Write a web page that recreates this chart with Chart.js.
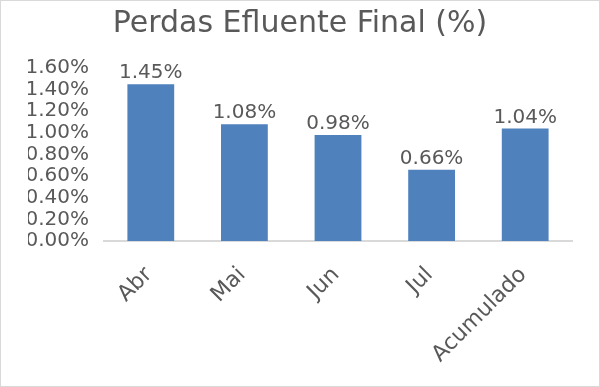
<!DOCTYPE html>
<html>
<head>
<meta charset="utf-8">
<script src="https://cdn.jsdelivr.net/npm/chart.js@4"></script>
<style>
  html, body { margin: 0; padding: 0; background: #fff; }
  #wrap { width: 600px; height: 387px; }
</style>
</head>
<body>
<div id="wrap"><canvas id="perdasChart" width="600" height="387"></canvas></div>
<script>
// data
const categories = ['Abr', 'Mai', 'Jun', 'Jul', 'Acumulado'];
const perdas = [1.45, 1.08, 0.98, 0.66, 1.04];
const yMin = 0;
const yMax = 1.6;
const yStep = 0.2;

const textColor = '#595959';
const barColor = '#4F81BD';
const fontFamily = '"DejaVu Sans", Verdana, sans-serif';

// white background + light frame around the whole chart
const frame = {
    id: 'frame',
    beforeDraw(chart) {
        const ctx = chart.ctx;
        ctx.save();
        ctx.fillStyle = '#fff';
        ctx.fillRect(0, 0, chart.width, chart.height);
        ctx.strokeStyle = '#d9d9d9';
        ctx.lineWidth = 1;
        ctx.strokeRect(0.5, 0.5, chart.width - 1, chart.height - 1);
        ctx.restore();
    }
};

// value labels above each bar
const valueLabels = {
    id: 'valueLabels',
    afterDatasetsDraw(chart) {
        const ctx = chart.ctx;
        const meta = chart.getDatasetMeta(0);
        ctx.save();
        ctx.font = '20px ' + fontFamily;
        ctx.fillStyle = textColor;
        ctx.textAlign = 'center';
        ctx.textBaseline = 'alphabetic';
        meta.data.forEach((bar, i) => {
            const v = chart.data.datasets[0].data[i];
            ctx.fillText(v.toFixed(2) + '%', bar.x, bar.y - 6);
        });
        ctx.restore();
    }
};

new Chart(document.getElementById('perdasChart'), {
    type: 'bar',
    data: {
        labels: categories,
        datasets: [{
            data: perdas,
            backgroundColor: barColor,
            borderWidth: 0,
            categoryPercentage: 1.0,
            barPercentage: 0.5
        }]
    },
    options: {
        responsive: false,
        animation: false,
        layout: { padding: { left: 28, right: 28, top: 0, bottom: 0 } },
        plugins: {
            legend: { display: false },
            tooltip: { enabled: false },
            title: {
                display: true,
                text: 'Perdas Efluente Final (%)',
                color: textColor,
                font: { family: fontFamily, size: 30, weight: 'normal' },
                padding: { top: 6, bottom: 26 }
            }
        },
        scales: {
            x: {
                grid: { display: false },
                border: { display: true, color: '#d9d9d9', width: 2 },
                ticks: {
                    color: textColor,
                    font: { family: fontFamily, size: 22 },
                    minRotation: 45,
                    maxRotation: 45,
                    padding: 13,
                    labelOffset: -2
                },
                afterFit(scale) { scale.height = 146; }
            },
            y: {
                min: yMin,
                max: yMax,
                grid: { display: false },
                border: { display: false },
                ticks: {
                    stepSize: yStep,
                    autoSkip: false,
                    color: textColor,
                    font: { family: fontFamily, size: 20 },
                    padding: 7,
                    callback: v => v.toFixed(2) + '%'
                },
                afterFit(scale) { scale.width = 76; }
            }
        }
    },
    plugins: [frame, valueLabels]
});
</script>
</body>
</html>
